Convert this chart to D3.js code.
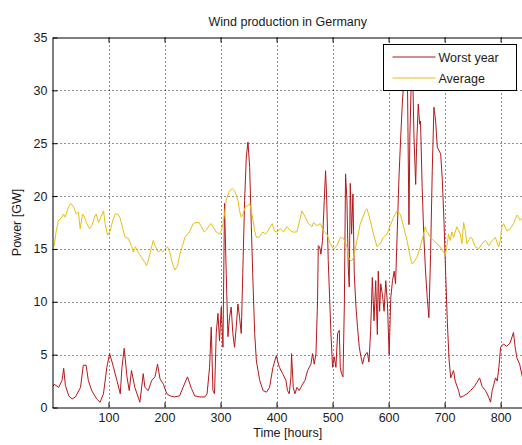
<!DOCTYPE html>
<html>
<head>
<meta charset="utf-8">
<script src="https://cdn.jsdelivr.net/npm/d3@7"></script>
<style>
  html, body { margin: 0; padding: 0; background: #fff; overflow: hidden; }
  svg { display: block; font-family: "Liberation Sans", Arial, Helvetica, sans-serif; }
</style>
</head>
<body>
<svg id="chart" width="522" height="445"></svg>
<script>
// Hourly wind output, worst year (hours, GW)
const worstHours = [1,3,11,17,20,23,29,35,41,50,55,60,64,70,79,85,91,97,102,109,115,121,124,128,133,137,141,147,156,162,165,171,177,183,187.5,192,198,204,210,218,227,233,241,248,254,263,272,276,
  280.4,283.4,286.4,289.3,292.3,295.4,298.2,301.3,304.3,307.1,310.2,313.2,316,319,322,325,328,331,334,337,340,343,346,349,352,355,358,361,364,370,376,382,387.5,393.6,399.5,405,411,
  416.8,419.6,422.7,425.7,426.8,429.8,432.9,436.4,440.5,446.4,450.7,455.4,461.4,464.3,467.3,470.4,473.2,474.5,476.8,479.3,482.1,485.2,487.5,489.3,492.3,495.4,497.1,500,503,506,509,512,513.8,516,518.6,521,523.2,525.7,528,529.8,531.6,534,536.4,538.8,541.8,544.6,547.7,550.7,553.6,556.6,559.6,
  562,565,568,571,574,577,580,581.6,584,586,589,592,595,598,601,604,607,610,612.5,615.5,618.6,621.6,624.5,627.5,630.4,633.4,636.4,638,641,643.6,645.4,648.4,650,653,655.5,657,660,663,666,669,672,675,678,681,684,687,693,696,699,702,705,708,711,
  716,719,725,728,734,740,746,752,758,762.5,767,773,779,782,785,788,791,794,797,800,805,811,817,823,826,829,834,840];
const worstPower = [2.0,2.2,1.9,2.55,3.7,2.1,1.1,0.8,1.0,1.9,4.0,4.0,2.55,1.6,0.8,0.5,1.3,3.8,5.1,3.8,2.55,1.3,3.8,5.6,2.9,1.6,3.5,1.9,0.5,3.2,1.9,1.6,2.55,2.9,4.1,2.7,2.2,1.3,1.1,1.0,1.1,1.9,2.9,1.8,1.1,1.0,1.0,1.3,
  3.8,7.6,1.6,1.3,7.0,8.9,6.3,9.5,5.7,19.3,12.6,6.7,8.5,9.5,7.0,5.7,7.6,9.8,8.5,7.0,13.3,19.6,23.7,25.1,22.7,17.1,11.7,7.0,4.4,2.55,1.6,1.45,1.9,3.8,4.9,3.8,3.2,
  2.55,1.6,1.3,2.9,5.1,1.9,1.3,1.9,1.6,2.2,2.55,3.5,4.1,5.1,4.1,5.1,10.1,15.3,15.2,14.5,15.8,19.6,22.4,20.2,13.9,9.5,7.0,3.8,4.8,3.8,7.0,7.3,3.8,3.2,2.9,9.5,22.1,19.6,13.3,11.4,21.2,16.4,20.2,12.6,9.5,7.6,5.7,4.8,4.1,4.8,5.1,
  5.2,4.3,7.3,12.3,8.2,12.0,6.9,12.9,9.1,11.7,10.7,9.1,12.0,9.8,5.0,10.4,12.0,12.9,11.7,16.7,21.8,25.5,28.7,31.2,31.9,32.5,17.3,25.5,31.9,30.3,25.5,21.1,24.6,28.7,26.8,27.1,20.8,16.1,12.9,10.4,8.5,14.5,22.4,28.4,27.1,24.6,24.0,21.5,17.5,12.5,8.0,4.5,2.8,
  3.5,2.5,1.6,0.95,1.1,1.3,1.6,1.9,2.4,2.8,2.0,1.6,0.95,0.5,1.6,2.2,2.8,2.5,3.8,5.7,6.0,5.8,6.1,7.1,5.7,4.7,4.1,2.6];

// Average year (hours, GW)
const avgHours = [1,3,6.6,10.8,16.7,19.7,22.7,25.6,28.6,32.8,37.5,42.3,46.4,49.4,53.6,57.2,61.3,66.1,70.2,74.4,78,82.1,86.3,91.1,94,98.2,103,107.7,111.9,116.7,120.8,125.6,129.8,135.2,141,144,148,153,159,165,168,172,175.7,179.8,184,188.8,193,196.4,200.7,205.4,209.6,213.8,218.5,223.2,227.5,231.6,236.4,241,245.4,251.3,256,261.4,266,271,275,279.2,283.4,286.4,292.3,298.2,301.3,304.3,307.1,310.2,313.2,316,320.9,325,328,331,334,337,340,344.6,349,352,355,358,361,364,368.6,372.7,375.7,380.4,384.6,388.8,392.3,396.4,400.7,406.6,412.5,418.6,427.5,436.4,445.4,451.3,457.1,463.2,466,472.1,478,484,490,495.9,501.8,507.9,513.8,519.6,525.7,528.6,531.6,534.6,537.5,543.6,549.5,558.4,561.4,567.3,573.2,579.3,585.2,591,597.1,603,609,615,620.9,626.8,632.9,638.8,641.8,644.6,650.7,656.6,662.5,665.5,668.6,674.5,680.4,686.4,692.3,698.2,701.3,704,707,710,713,716,722,728,731,734,737,740,746,749,755,761,767,773,779,785,790.5,796.6,799.5,802.5,805.4,811.4,817.3,823.2,829.1,832,835,840];
const avgPower = [15.3,15.3,16.7,17.7,18.0,18.3,18.0,18.5,19.0,19.3,19.0,18.3,18.5,16.9,18.3,18.0,17.4,16.9,17.2,17.9,18.3,17.5,18.0,18.6,17.4,16.3,16.7,17.7,18.3,18.3,17.9,16.9,16.1,16.0,15.3,14.7,15.2,14.7,14.2,13.7,13.4,14.1,14.9,15.8,15.2,14.7,14.9,14.7,15.0,15.2,14.7,13.7,13.0,13.4,14.5,15.2,16.1,16.4,16.7,17.4,17.5,17.5,17.1,16.6,16.8,17.2,17.4,17.1,16.6,16.4,16.7,17.4,18.3,19.6,20.1,20.5,20.7,20.5,20.1,19.6,18.6,18.0,18.3,19.0,19.1,19.3,18.6,17.7,16.7,16.1,16.1,16.4,16.6,16.4,16.7,17.1,17.4,16.7,16.6,16.9,16.6,17.1,16.6,16.6,18.6,18.0,17.4,17.1,17.5,17.2,17.4,16.7,16.4,15.5,15.0,15.3,16.1,16.0,15.2,14.2,13.9,13.9,14.2,15.8,17.4,18.6,18.8,17.7,16.4,15.2,15.5,16.1,16.4,17.2,18.0,18.6,18.3,17.1,15.8,14.2,13.6,13.7,14.2,15.2,16.4,17.1,16.6,16.1,15.8,15.5,15.2,14.7,14.4,15.2,16.4,15.8,16.6,16.1,17.1,16.4,15.5,17.5,16.7,15.5,16.1,16.0,15.2,15.0,15.5,15.8,15.3,15.8,16.1,15.2,15.8,17.1,17.4,16.7,16.9,17.4,18.2,18.0,17.7,18.0];

const xTicks = [100, 200, 300, 400, 500, 600, 700, 800];
const yTicks = [0, 5, 10, 15, 20, 25, 30, 35];
const seriesNames = ["Worst year", "Average"];
const seriesColors = ["#b3171b", "#e6bf12"];

const margin = { left: 52.5, top: 37.5, right: 523, bottom: 407.5 };
const svg = d3.select("#chart");

const x = d3.scaleLinear().domain([0, 840]).range([margin.left, margin.right]);
const y = d3.scaleLinear().domain([0, 35]).range([margin.bottom, margin.top]);

// Dotted grid
const grid = svg.append("g").attr("stroke", "#222").attr("stroke-width", 1).attr("stroke-dasharray", "1,3");
grid.selectAll("line.gx").data(xTicks).join("line")
  .attr("x1", d => Math.round(x(d)) + 0.5).attr("x2", d => Math.round(x(d)) + 0.5)
  .attr("y1", margin.top).attr("y2", margin.bottom);
grid.selectAll("line.gy").data(yTicks.filter(d => d > 0 && d < 35)).join("line")
  .attr("y1", d => Math.round(y(d)) + 0.5).attr("y2", d => Math.round(y(d)) + 0.5)
  .attr("x1", margin.left).attr("x2", margin.right);

// Series lines
const clip = svg.append("clipPath").attr("id", "plotclip").append("rect")
  .attr("x", margin.left).attr("y", margin.top)
  .attr("width", margin.right - margin.left).attr("height", margin.bottom - margin.top);

const line = d3.line().x(d => x(d[0])).y(d => y(d[1]));
const worst = worstHours.map((h, i) => [h, worstPower[i]]);
const avg = avgHours.map((h, i) => [h, avgPower[i]]);

const plot = svg.append("g").attr("clip-path", "url(#plotclip)");
plot.append("path").datum(worst).attr("d", line)
  .attr("fill", "none").attr("stroke", seriesColors[0]).attr("stroke-width", 1).attr("stroke-linejoin", "round");
plot.append("path").datum(avg).attr("d", line)
  .attr("fill", "none").attr("stroke", seriesColors[1]).attr("stroke-width", 1).attr("stroke-linejoin", "round");

// Axes (ticks inside, box on)
const fontSize = "12.5px";
const bottomAxis = d3.axisBottom(x).tickValues(xTicks).tickSizeInner(-5).tickSizeOuter(0).tickPadding(6);
const topAxis = d3.axisTop(x).tickValues(xTicks).tickSizeInner(-5).tickSizeOuter(0).tickFormat("");
const leftAxis = d3.axisLeft(y).tickValues(yTicks).tickSizeInner(-5).tickSizeOuter(0).tickPadding(5);

function styleAxis(g) {
  g.select(".domain").attr("stroke", "#000");
  g.selectAll(".tick line").attr("stroke", "#000");
  g.selectAll(".tick text").attr("fill", "#1a1a1a").style("font-size", fontSize)
    .style("font-family", "\"Liberation Sans\", Arial, sans-serif");
}

svg.append("g").attr("transform", `translate(0,${margin.bottom})`).call(bottomAxis).call(styleAxis);
svg.append("g").attr("transform", `translate(0,${margin.top})`).call(topAxis).call(styleAxis);
svg.append("g").attr("transform", `translate(${margin.left},0)`).call(leftAxis).call(styleAxis);

// Titles
svg.append("text").attr("x", (margin.left + margin.right) / 2).attr("y", 26)
  .attr("text-anchor", "middle").style("font-size", "12.5px").attr("fill", "#1a1a1a")
  .text("Wind production in Germany");
svg.append("text").attr("x", (margin.left + margin.right) / 2).attr("y", 437)
  .attr("text-anchor", "middle").style("font-size", "12.5px").attr("fill", "#1a1a1a")
  .text("Time [hours]");
svg.append("text").attr("transform", `translate(21,${(margin.top + margin.bottom) / 2}) rotate(-90)`)
  .attr("text-anchor", "middle").style("font-size", "12.5px").attr("fill", "#1a1a1a")
  .text("Power [GW]");

// Legend
const legend = svg.append("g").attr("transform", "translate(383.5,44.5)");
legend.append("rect").attr("width", 133).attr("height", 46)
  .attr("fill", "#fff").attr("stroke", "#000").attr("stroke-width", 1);
const items = legend.selectAll("g.item").data(seriesNames).join("g")
  .attr("transform", (d, i) => `translate(0,${12.5 + i * 21})`);
items.append("line").attr("x1", 9).attr("x2", 52).attr("y1", 0).attr("y2", 0)
  .attr("stroke", (d, i) => seriesColors[i]).attr("stroke-width", 1);
items.append("text").attr("x", 55).attr("y", 4.5).style("font-size", "12.5px").attr("fill", "#1a1a1a")
  .text(d => d);
</script>
</body>
</html>
